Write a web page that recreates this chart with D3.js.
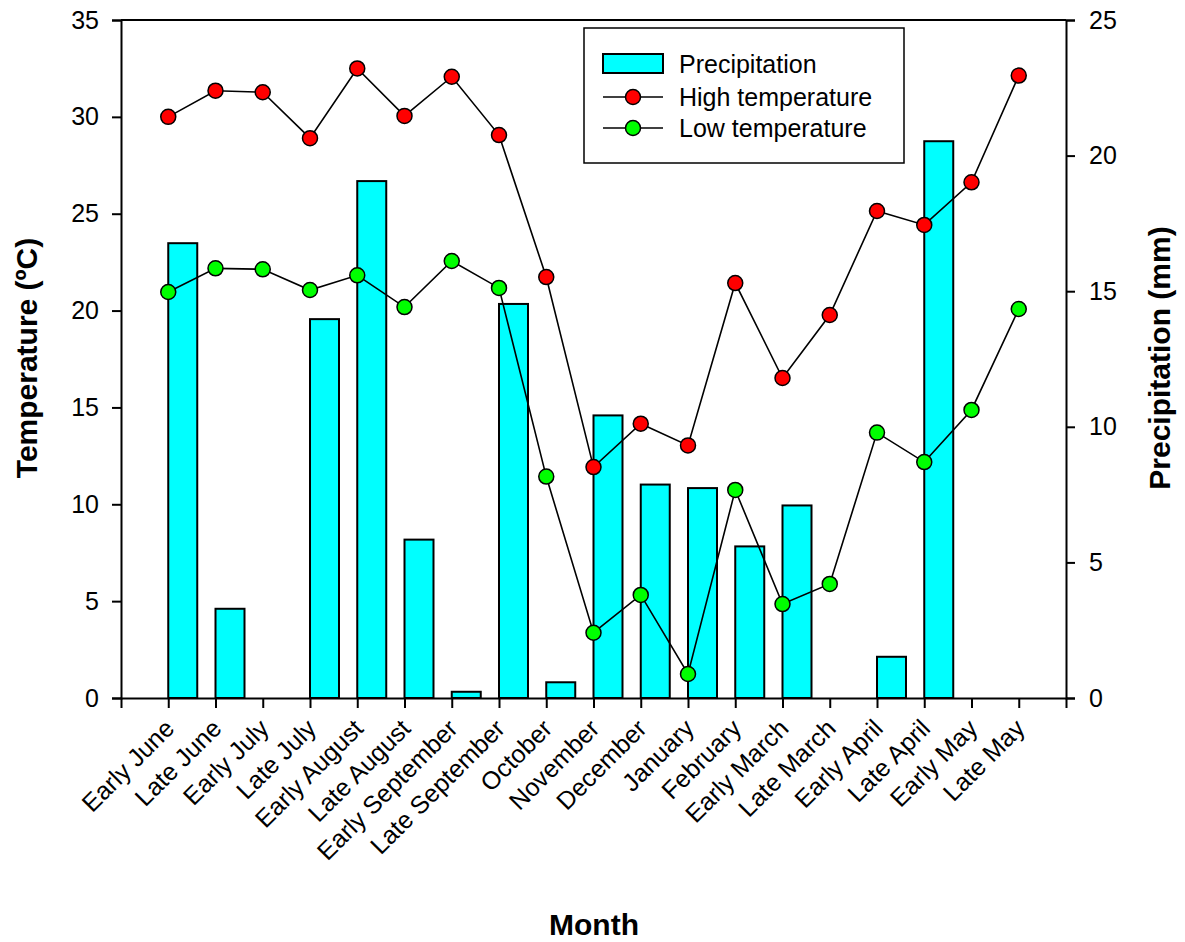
<!DOCTYPE html>
<html><head><meta charset="utf-8">
<script src="https://cdn.jsdelivr.net/npm/d3@7"></script>
<style>body{margin:0;background:#fff}text{font-family:"Liberation Sans",Arial,sans-serif}</style>
</head><body>
<svg id="c" width="1185" height="942"></svg>
<script>
const categories = ["Early June","Late June","Early July","Late July","Early August","Late August","Early September","Late September","October","November","December","January","February","Early March","Late March","Early April","Late April","Early May","Late May"];
const highTemp = [30.0,31.35,31.27,28.9,32.5,30.05,32.07,29.06,21.73,11.92,14.16,13.04,21.42,16.52,19.77,25.14,24.42,26.62,32.13];
const lowTemp = [20.96,22.18,22.13,21.06,21.82,20.18,22.56,21.17,11.43,3.37,5.32,1.24,10.74,4.85,5.89,13.7,12.18,14.87,20.08];
const precip = [16.77,3.29,0,13.97,19.06,5.84,0.23,14.53,0.58,10.42,7.87,7.74,5.59,7.1,0,1.52,20.53,0,0];
const tempTicks = [0,5,10,15,20,25,30,35];
const precipTicks = [0,5,10,15,20,25];

const svg = d3.select("#c");
const L = 121, R = 1066, T = 20, B = 698;
const x = d3.scaleLinear().domain([0, categories.length + 1]).range([L, R]);
const yT = d3.scaleLinear().domain([0, 35]).range([B, T]);
const yP = d3.scaleLinear().domain([0, 25]).range([B, T]);
const barW = 29;

// bars
svg.append("g").selectAll("rect").data(precip).join("rect")
  .attr("x", (d,i) => x(i+1)).attr("width", barW)
  .attr("y", d => yP(d)).attr("height", d => B - yP(d))
  .attr("fill", "#00FFFF").attr("stroke", "#000").attr("stroke-width", 2)
  .attr("display", d => d > 0 ? null : "none");

// axes
const fs = "25px";
const gl = svg.append("g").attr("transform", `translate(${L},0)`)
  .call(d3.axisLeft(yT).tickValues(tempTicks).tickSize(9).tickPadding(13));
const gr = svg.append("g").attr("transform", `translate(${R},0)`)
  .call(d3.axisRight(yP).tickValues(precipTicks).tickSize(9).tickPadding(14));
const gb = svg.append("g").attr("transform", `translate(0,${B})`)
  .call(d3.axisBottom(x).tickValues(d3.range(1, categories.length+1)).tickSize(10).tickFormat(i => categories[i-1]));
[gl, gr, gb].forEach(g => {
  g.select(".domain").attr("stroke", "#000").attr("stroke-width", 2);
  g.selectAll(".tick line").attr("stroke", "#000").attr("stroke-width", 2);
  g.selectAll("text").attr("font-size", fs).attr("fill", "#000").attr("font-family", '"Liberation Sans",Arial,sans-serif');
});
gb.selectAll(".tick text")
  .attr("text-anchor", "end").attr("transform", "translate(7,32) rotate(-45)")
  .attr("dy", "0").attr("y", 0).attr("x", 0);
svg.append("line").attr("x1", L).attr("x2", R).attr("y1", T).attr("y2", T)
  .attr("stroke", "#000").attr("stroke-width", 2);

// lines
const line = yS => d3.line().x((d,i) => x(i+1)).y(d => yS(d));
function series(data, color) {
  svg.append("path").datum(data).attr("d", line(yT)).attr("fill", "none")
    .attr("stroke", "#000").attr("stroke-width", 1.6);
  svg.append("g").selectAll("circle").data(data).join("circle")
    .attr("cx", (d,i) => x(i+1)).attr("cy", d => yT(d)).attr("r", 7.5)
    .attr("fill", color).attr("stroke", "#000").attr("stroke-width", 1.5);
}
series(highTemp, "#FF0000");
series(lowTemp, "#00FF00");

// axis titles
svg.append("text").attr("transform", `translate(37,358) rotate(-90)`)
  .attr("text-anchor", "middle").attr("font-size", "30px").attr("font-weight", "bold").text("Temperature (ºC)");
svg.append("text").attr("transform", `translate(1170,358) rotate(-90)`)
  .attr("text-anchor", "middle").attr("font-size", "30px").attr("font-weight", "bold").text("Precipitation (mm)");
svg.append("text").attr("x", 594).attr("y", 935)
  .attr("text-anchor", "middle").attr("font-size", "30px").attr("font-weight", "bold").text("Month");

// legend
const lg = svg.append("g");
lg.append("rect").attr("x", 584).attr("y", 28).attr("width", 320).attr("height", 135)
  .attr("fill", "#fff").attr("stroke", "#000").attr("stroke-width", 1.5);
lg.append("rect").attr("x", 603).attr("y", 54).attr("width", 60).attr("height", 19)
  .attr("fill", "#00FFFF").attr("stroke", "#000").attr("stroke-width", 2);
const items = [["Precipitation", 64], ["High temperature", 97, "#FF0000"], ["Low temperature", 128, "#00FF00"]];
items.forEach(([t, yy, c]) => {
  if (c) {
    lg.append("line").attr("x1", 603).attr("x2", 663).attr("y1", yy).attr("y2", yy).attr("stroke", "#000").attr("stroke-width", 1.6);
    lg.append("circle").attr("cx", 633).attr("cy", yy).attr("r", 7.5).attr("fill", c).attr("stroke", "#000").attr("stroke-width", 1.5);
  }
  lg.append("text").attr("x", 679).attr("y", yy).attr("dy", "0.36em").attr("font-size", fs).text(t);
});
</script>
</body></html>
